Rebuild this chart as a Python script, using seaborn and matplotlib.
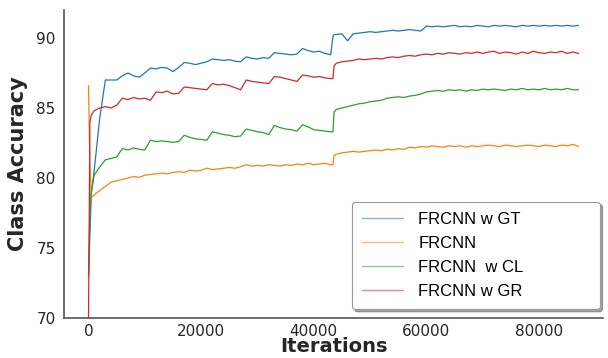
import matplotlib
matplotlib.use("Agg")
import matplotlib.pyplot as plt
import seaborn as sns
import pandas as pd

# ---- data ----
iterations = ([0, 250, 500] + list(range(1000, 44000, 1000)) + [43400, 43600]
              + list(range(44000, 88000, 1000)))

frcnn_gt = [73.0, 76.0, 78.9, 80.5,
            84.3, 87.0, 87.0, 87.0, 87.3, 87.5, 87.3, 87.2, 87.5, 87.85,
            87.8, 87.9, 87.85, 87.6, 87.9, 88.25, 88.2, 88.1, 88.2, 88.3,
            88.5, 88.45, 88.4, 88.45, 88.35, 88.3, 88.65, 88.55, 88.5, 88.6,
            88.55, 88.95, 88.9, 88.85, 88.8, 88.85, 89.25, 89.1, 89.0, 89.05,
            88.9, 88.8,
            90.1, 90.25,
            90.25, 90.3, 89.8, 90.3, 90.35, 90.4, 90.45, 90.4, 90.45, 90.5,
            90.55, 90.5, 90.55, 90.6, 90.55, 90.5, 90.85, 90.8, 90.85, 90.8,
            90.85, 90.9, 90.8, 90.85, 90.8, 90.9, 90.85, 90.8, 90.9, 90.85,
            90.9, 90.85, 90.8, 90.9, 90.85, 90.9, 90.85, 90.9, 90.85, 90.9,
            90.85, 90.9, 90.85, 90.9]

frcnn = [86.6, 81.0, 78.6, 78.8,
         79.1, 79.4, 79.7, 79.8, 79.9, 80.0, 80.1, 80.05, 80.2, 80.25,
         80.3, 80.35, 80.3, 80.4, 80.45, 80.4, 80.55, 80.5, 80.55, 80.7,
         80.6, 80.65, 80.7, 80.75, 80.7, 80.8, 80.95, 80.85, 80.9, 80.85,
         80.95, 80.9, 80.85, 80.95, 80.9, 81.0, 80.95, 81.05, 80.95, 81.0,
         81.05, 80.95,
         80.95, 81.6,
         81.7, 81.8, 81.85, 81.9, 81.85, 81.9, 81.95, 82.0, 81.95, 82.05,
         82.0, 82.1, 82.05, 82.2, 82.15, 82.25, 82.2, 82.3, 82.25, 82.2,
         82.3, 82.25, 82.3, 82.2, 82.3, 82.25, 82.3, 82.35, 82.3, 82.25,
         82.35, 82.3, 82.25, 82.3, 82.35, 82.3, 82.25, 82.35, 82.3, 82.25,
         82.35, 82.3, 82.4, 82.25]

frcnn_cl = [73.0, 77.5, 79.0, 80.2,
            80.8, 81.3, 81.4, 81.5, 82.1, 82.0, 82.15, 82.05, 82.0, 82.7,
            82.6, 82.65, 82.6, 82.55, 82.6, 83.05, 82.9, 82.8, 82.75, 82.7,
            83.3, 83.2, 83.1, 83.05, 82.95, 83.0, 83.5, 83.4, 83.3, 83.25,
            83.1, 83.75, 83.6, 83.5, 83.45, 83.35, 83.8, 83.65, 83.45, 83.4,
            83.35, 83.3,
            83.3, 84.7,
            84.9, 85.0, 85.1, 85.2, 85.3, 85.35, 85.45, 85.5, 85.55, 85.7,
            85.75, 85.8, 85.75, 85.85, 85.9, 86.0, 86.15, 86.2, 86.25, 86.2,
            86.3, 86.25, 86.3, 86.2, 86.3, 86.25, 86.35, 86.3, 86.35, 86.3,
            86.25, 86.35, 86.3, 86.4, 86.3, 86.35, 86.3, 86.4, 86.3, 86.35,
            86.3, 86.4, 86.3, 86.3]

frcnn_gr = [70.0, 84.0, 84.5, 84.8,
            85.0, 85.1, 85.0, 85.2, 85.7, 85.6, 85.75, 85.65, 85.7, 85.55,
            86.15, 86.1, 86.2, 86.0, 86.05, 86.5, 86.45, 86.4, 86.35, 86.3,
            86.75, 86.65, 86.7, 86.6, 86.45, 86.3, 87.0, 86.9, 86.85, 86.8,
            86.75, 87.25, 87.2, 87.1, 87.0, 86.9, 87.35, 87.3, 87.2, 87.25,
            87.15, 87.1,
            87.1, 88.0,
            88.2, 88.3, 88.35, 88.4, 88.5, 88.45, 88.5, 88.55, 88.5, 88.6,
            88.65, 88.6, 88.7, 88.75, 88.7, 88.8, 88.85, 88.8, 88.9, 88.85,
            88.95, 88.9, 88.85, 88.95, 88.9, 89.0, 88.9, 89.0, 89.05, 88.9,
            89.0, 88.95, 88.85, 89.0, 88.9, 89.05, 88.95, 88.9, 89.0, 88.95,
            89.05, 88.9, 89.0, 88.9]

labels = ["FRCNN w GT", "FRCNN", "FRCNN  w CL", "FRCNN w GR"]
y_ticks = [70, 75, 80, 85, 90]
x_ticks = [0, 20000, 40000, 60000, 80000]

# ---- build long table ----
frames = []
for lab, vals in zip(labels, [frcnn_gt, frcnn, frcnn_cl, frcnn_gr]):
    frames.append(pd.DataFrame({"Iterations": iterations, "acc": vals, "model": lab}))
df = pd.concat(frames, ignore_index=True)

sns.set_theme(style="white")
plt.rcParams["font.family"] = ["DejaVu Sans"]

fig = plt.figure(figsize=(6.08, 3.58), dpi=100)
ax = fig.add_axes([64 / 608, 40 / 358, 539 / 608, 308 / 358])

palette = sns.color_palette("tab10", 4)
sns.lineplot(data=df, x="Iterations", y="acc", hue="model", hue_order=labels,
             palette=palette, estimator=None, sort=False, linewidth=0.9,
             legend=False, ax=ax)

ax.set_ylim(70, 92)
ax.set_yticks(y_ticks)
ax.set_xticks(x_ticks)
ax.tick_params(axis="both", labelsize=11, colors=".15", pad=6, length=0)
ax.tick_params(axis="x", pad=4)
ax.set_xlabel("Iterations", fontsize=14, fontweight="bold", color=".15", labelpad=-1.2)
ax.set_ylabel("Class Accuracy", fontsize=15, fontweight="bold", color=".15", labelpad=6)
sns.despine(ax=ax)
for s in ["left", "bottom"]:
    ax.spines[s].set_color("#555555")
    ax.spines[s].set_linewidth(1.2)

handles = ax.get_lines()[:4]
leg = ax.legend(handles, labels, loc="lower left",
                bbox_to_anchor=(0.534, 0.029, 0.46, 0.345), mode="expand",
                borderaxespad=0, frameon=True, fancybox=True, shadow=True,
                prop={"family": "Liberation Sans", "size": 12},
                handlelength=2.5, handletextpad=0.9, labelspacing=0.55,
                borderpad=0.6, labelcolor="black")
leg.get_frame().set_edgecolor("#999999")
leg.get_frame().set_linewidth(0.8)
for h in leg.legend_handles:
    h.set_alpha(0.55)
    h.set_linewidth(1.0)

fig.savefig("out.png", dpi=100)
